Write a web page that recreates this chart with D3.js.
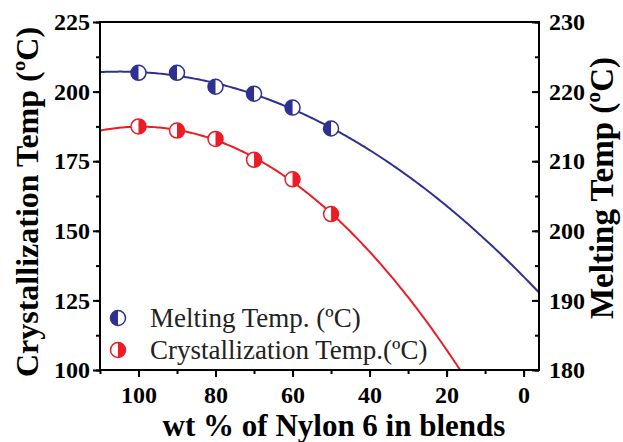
<!DOCTYPE html>
<html>
<head>
<meta charset="utf-8">
<script src="https://cdn.jsdelivr.net/npm/d3@7"></script>
<style>
  body { margin: 0; background: #fff; }
  svg { display: block; }
  text { font-family: "Liberation Serif", "Times New Roman", serif; }
</style>
</head>
<body>
<div id="chart"></div>
<script>
// wt % of Nylon 6
const nylonPct = [100, 90, 80, 70, 60, 50];
// right axis series
const meltingTemp = [222.7, 222.7, 220.7, 219.7, 217.7, 214.7];
// left axis series
const crystTemp = [187.5, 186, 183, 175.5, 168.5, 156];

const xTicks = [100, 80, 60, 40, 20, 0];
const leftTicks = [100, 125, 150, 175, 200, 225];
const rightTicks = [180, 190, 200, 210, 220, 230];

const width = 623, height = 442;
const margin = { top: 22, right: 84, bottom: 72, left: 100 };
const innerW = width - margin.left - margin.right;
const innerH = height - margin.top - margin.bottom;

const BLUE = '#2e3192';
const RED = '#ed1c24';

const svg = d3.select('#chart').append('svg')
  .attr('width', width)
  .attr('height', height);

const g = svg.append('g')
  .attr('transform', `translate(${margin.left},${margin.top})`);

const x = d3.scaleLinear().domain([110, -4]).range([0, innerW]);
const yLeft = d3.scaleLinear().domain([100, 225]).range([innerH, 0]);
const yRight = d3.scaleLinear().domain([180, 230]).range([innerH, 0]);

// quadratic least-squares fit, same as the original fitted curves
function quadFit(xs, ys) {
  let s = [0, 0, 0, 0, 0], t = [0, 0, 0];
  xs.forEach((xi, i) => {
    for (let k = 0; k < 5; k++) s[k] += Math.pow(xi, k);
    for (let k = 0; k < 3; k++) t[k] += ys[i] * Math.pow(xi, k);
  });
  const M = [[s[0], s[1], s[2], t[0]], [s[1], s[2], s[3], t[1]], [s[2], s[3], s[4], t[2]]];
  for (let i = 0; i < 3; i++) {
    for (let j = i + 1; j < 3; j++) {
      const f = M[j][i] / M[i][i];
      for (let k = i; k < 4; k++) M[j][k] -= f * M[i][k];
    }
  }
  const c = [0, 0, 0];
  for (let i = 2; i >= 0; i--) {
    let v = M[i][3];
    for (let k = i + 1; k < 3; k++) v -= M[i][k] * c[k];
    c[i] = v / M[i][i];
  }
  return v => c[0] + c[1] * v + c[2] * v * v;
}

const fitMelt = quadFit(nylonPct, meltingTemp);
const fitCryst = quadFit(nylonPct, crystTemp);
const curveX = d3.range(110, -4.01, -0.5);

// clip to the plot area
svg.append('defs').append('clipPath').attr('id', 'plot-clip')
  .append('rect').attr('width', innerW).attr('height', innerH);

const lines = g.append('g').attr('clip-path', 'url(#plot-clip)');

lines.append('path')
  .datum(curveX)
  .attr('fill', 'none')
  .attr('stroke', BLUE)
  .attr('stroke-width', 2)
  .attr('d', d3.line().x(d => x(d)).y(d => yRight(fitMelt(d))));

lines.append('path')
  .datum(curveX)
  .attr('fill', 'none')
  .attr('stroke', RED)
  .attr('stroke-width', 2)
  .attr('d', d3.line().x(d => x(d)).y(d => yLeft(fitCryst(d))));

// half-filled circle marker
function halfMarker(sel, cx, cy, color, leftHalf) {
  const r = 7.5;
  sel.append('circle')
    .attr('cx', cx).attr('cy', cy).attr('r', r)
    .attr('fill', '#fff')
    .attr('stroke', color)
    .attr('stroke-width', 1.5);
  sel.append('path')
    .attr('d', `M${cx},${cy - r}A${r},${r} 0 0 ${leftHalf ? 0 : 1} ${cx},${cy + r}Z`)
    .attr('fill', color);
}

const markers = g.append('g');
nylonPct.forEach((p, i) => {
  halfMarker(markers, x(p), yRight(meltingTemp[i]), BLUE, true);
  halfMarker(markers, x(p), yLeft(crystTemp[i]), RED, false);
});

// axes
const tickFont = sel => sel.selectAll('text')
  .style('font-family', '"Liberation Serif", "Times New Roman", serif')
  .style('font-size', '24px')
  .style('font-weight', 'bold')
  .attr('fill', '#000');

const styleAxis = sel => {
  sel.select('.domain').remove();
  sel.selectAll('line').attr('stroke', '#000').attr('stroke-width', 2);
};

// minor ticks
const xMinor = g.append('g').attr('transform', `translate(0,${innerH})`)
  .call(d3.axisBottom(x).tickValues(d3.range(110, -4, -10)).tickSize(4).tickFormat(''));
styleAxis(xMinor);
const lMinor = g.append('g')
  .call(d3.axisLeft(yLeft).tickValues(d3.range(100, 226, 12.5)).tickSize(4).tickFormat(''));
styleAxis(lMinor);
const rMinor = g.append('g').attr('transform', `translate(${innerW},0)`)
  .call(d3.axisLeft(yRight).tickValues(d3.range(180, 231, 5)).tickSize(4).tickFormat(''));
styleAxis(rMinor);

const xAxis = g.append('g').attr('transform', `translate(0,${innerH})`)
  .call(d3.axisBottom(x).tickValues(xTicks).tickSize(7).tickPadding(9));
styleAxis(xAxis);
tickFont(xAxis);

const lAxis = g.append('g')
  .call(d3.axisLeft(yLeft).tickValues(leftTicks).tickSize(7).tickPadding(3));
styleAxis(lAxis);
tickFont(lAxis);

const rAxis = g.append('g').attr('transform', `translate(${innerW},0)`)
  .call(d3.axisRight(yRight).tickValues(rightTicks).tickSizeInner(-7).tickSizeOuter(0).tickPadding(10));
styleAxis(rAxis);
tickFont(rAxis);

// frame
g.append('rect')
  .attr('width', innerW).attr('height', innerH)
  .attr('fill', 'none')
  .attr('stroke', '#000')
  .attr('stroke-width', 2);

// axis titles
svg.append('text')
  .attr('text-anchor', 'middle')
  .attr('transform', `translate(38,${margin.top + innerH / 2 + 6}) rotate(-90)`)
  .style('font-size', '32px')
  .style('font-weight', 'bold')
  .text('Crystallization Temp (ºC)');

svg.append('text')
  .attr('text-anchor', 'middle')
  .attr('transform', `translate(613,${margin.top + innerH / 2 - 8}) rotate(-90)`)
  .style('font-size', '33px')
  .style('font-weight', 'bold')
  .text('Melting Temp (ºC)');

svg.append('text')
  .attr('text-anchor', 'middle')
  .attr('x', 334)
  .attr('y', 436)
  .style('font-size', '31px')
  .style('font-weight', 'bold')
  .text('wt % of Nylon 6 in blends');

// legend
const legend = g.append('g');
const legendItems = [
  { label: 'Melting Temp. (ºC)', color: BLUE, left: true },
  { label: 'Crystallization Temp.(ºC)', color: RED, left: false }
];
legendItems.forEach((d, i) => {
  const ly = 318 + i * 32 - margin.top;
  halfMarker(legend, 18, ly, d.color, d.left);
  legend.append('text')
    .attr('x', 50)
    .attr('y', ly + 9)
    .style('font-size', '27px')
    .attr('fill', '#222')
    .text(d.label);
});
</script>
</body>
</html>
